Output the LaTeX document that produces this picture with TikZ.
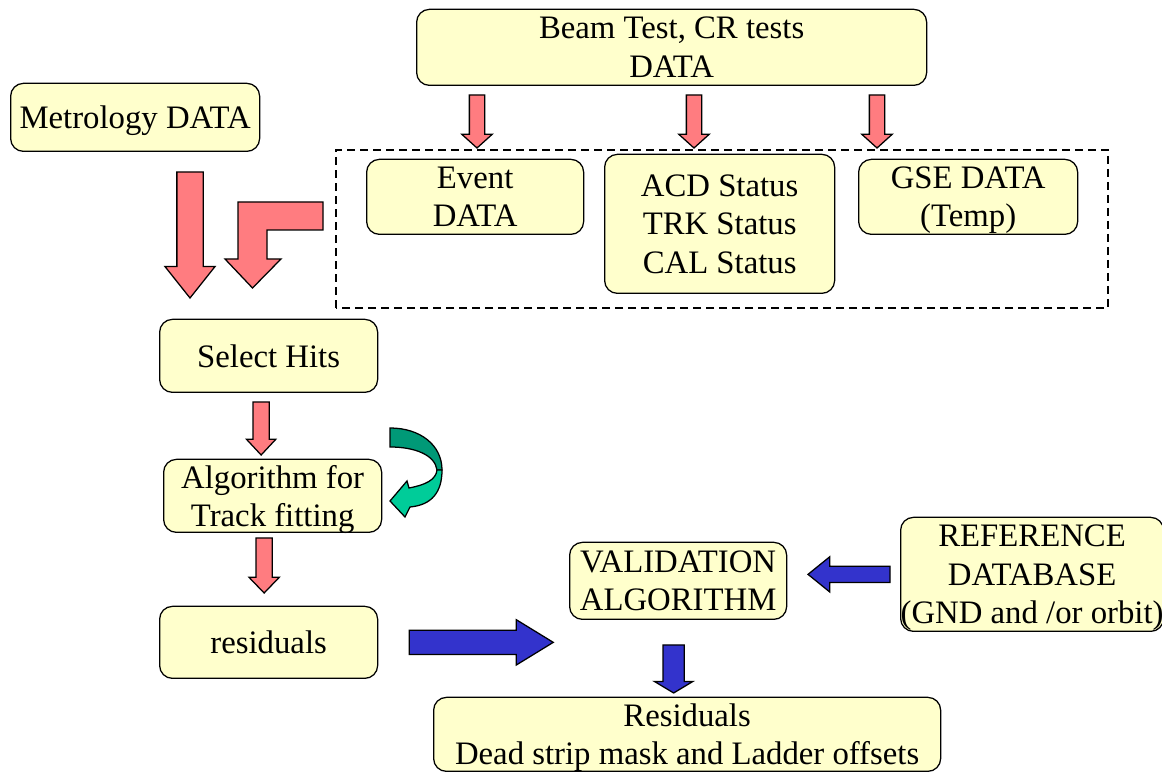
\documentclass[tikz,border=0pt]{standalone}
\usepackage{fontspec}
\setmainfont{Liberation Serif}
\usepackage{tikz}
\usetikzlibrary{shapes, arrows, positioning, calc}
\definecolor{boxfill}{HTML}{FFFFCC}
\definecolor{arrowred}{HTML}{FF7C80}
\definecolor{arrowblue}{HTML}{3333CC}
\definecolor{greendark}{HTML}{009977}
\definecolor{greenlight}{HTML}{00CC99}
\tikzstyle{box} = [draw, line width=0.9pt, rounded corners=0.32cm, fill=boxfill, align=center, anchor=south west, inner sep=0pt, text depth=-0.15cm]
\tikzstyle{blockarrow} = [single arrow, draw, line width=0.9pt, inner xsep=0pt, outer sep=0pt, rotate=-90, anchor=tail, single arrow head indent=0pt]

\begin{document}
\begin{tikzpicture}[every node/.style={font=\fontsize{23.3}{27.4}\selectfont}]
		\useasboundingbox (0,0) rectangle (29.05,19.35);
		\coordinate (beam)    at (10.4,   17.2);
		\coordinate (metro)   at (0.25,   15.55);
		\coordinate (frame)   at (8.4,    11.65);
		\coordinate (event)   at (9.15,   13.475);
		\coordinate (status)  at (15.1,   12.0);
		\coordinate (gse)     at (21.45,  13.475);
		\coordinate (select)  at (3.975,  9.525);
		\coordinate (algo)    at (4.075,  6.025);
		\coordinate (resid)   at (3.975,  2.375);
		\coordinate (valid)   at (14.225, 3.85);
		\coordinate (refdb)   at (22.5,   3.55);
		\coordinate (result)  at (10.825, 0.05);

		\draw[line width=1.4pt, dash pattern=on 0.2cm off 0.125cm] (frame) rectangle ++(19.3, 3.95);

		\node[box, minimum width=12.75cm, minimum height=1.9cm] (BEAM) at (beam) {Beam Test, CR tests\\DATA};
		\node[box, minimum width=6.225cm, minimum height=1.7cm, text depth=0pt] (MET) at (metro) {Metrology DATA};
		\node[box, minimum width=5.425cm, minimum height=1.875cm] (EVT) at (event) {Event\\DATA};
		\node[box, minimum width=5.75cm, minimum height=3.475cm] (STA) at (status) {ACD Status\\TRK Status\\CAL Status};
		\node[box, minimum width=5.475cm, minimum height=1.875cm] (GSE) at (gse) {GSE DATA\\(Temp)};
		\node[box, minimum width=5.45cm, minimum height=1.825cm] (SEL) at (select) {Select Hits};
		\node[box, minimum width=5.45cm, minimum height=1.825cm] (ALG) at (algo) {Algorithm for\\Track fitting};
		\node[box, minimum width=5.45cm, minimum height=1.8cm] (RES) at (resid) {residuals};
		\node[box, minimum width=5.425cm, minimum height=1.925cm] (VAL) at (valid) {VALIDATION\\ALGORITHM};
		\node[box, minimum width=6.5cm, minimum height=2.85cm] (REF) at (refdb) {REFERENCE\\DATABASE\\(GND and /or orbit)};
		\node[box, minimum width=12.675cm, minimum height=1.85cm] (OUT) at (result) {Residuals\\Dead strip mask and Ladder offsets};

		% red block arrows
		\node[blockarrow, fill=arrowred, minimum height=1.325cm, inner ysep=0.175cm, single arrow head extend=0.1875cm, single arrow tip angle=96] (A1) at ($(BEAM.south west) + (1.525, -0.225)$) {};
		\node[blockarrow, fill=arrowred, minimum height=1.325cm, inner ysep=0.175cm, single arrow head extend=0.1875cm, single arrow tip angle=96] (A2) at ($(BEAM.south west) + (6.95, -0.225)$) {};
		\node[blockarrow, fill=arrowred, minimum height=1.325cm, inner ysep=0.175cm, single arrow head extend=0.1875cm, single arrow tip angle=96] (A3) at ($(BEAM.south west) + (11.525, -0.225)$) {};
		\node[blockarrow, fill=arrowred, minimum height=3.15cm, inner ysep=0.3125cm, single arrow head extend=0.3cm, single arrow tip angle=77] (A4) at ($(MET.south west) + (4.5, -0.5)$) {};
		\node[blockarrow, fill=arrowred, minimum height=1.325cm, inner ysep=0.1875cm, single arrow head extend=0.1625cm, single arrow tip angle=86] (A5) at ($(SEL.south) + (-0.1875, -0.225)$) {};
		\node[blockarrow, fill=arrowred, minimum height=1.375cm, inner ysep=0.1875cm, single arrow head extend=0.175cm, single arrow tip angle=88] (A6) at ($(ALG.south) + (-0.2125, -0.125)$) {};
		\draw[line width=0.9pt, fill=arrowred] (8.075, 14.3) -- (5.95, 14.3) -- (5.95, 12.875) -- (5.625, 12.875) -- (6.3125, 12.15) -- (7.025, 12.875) -- (6.675, 12.875) -- (6.675, 13.6) -- (8.075, 13.6) -- cycle;

		% blue block arrows
		\node[blockarrow, rotate=90, fill=arrowblue, minimum height=3.6cm, inner ysep=0.2875cm, single arrow head extend=0.2625cm, single arrow tip angle=63] (B1) at ($(RES.east) + (0.775, 0.0)$) {};
		\node[blockarrow, rotate=-90, fill=arrowblue, minimum height=2.05cm, inner ysep=0.1875cm, single arrow head extend=0.2375cm, single arrow tip angle=78] (B2) at ($(REF.west) + (-0.25, 0.0)$) {};
		\node[blockarrow, fill=arrowblue, minimum height=1.2cm, inner ysep=0.25cm, single arrow head extend=0.2125cm, single arrow tip angle=118] (B3) at ($(VAL.south) + (-0.1125, -0.625)$) {};

		% green curved arrow
		\draw[line width=0.9pt, fill=greendark] (9.75, 8.65) .. controls (10.5, 8.65) and (11.05, 8.225) .. (11.05, 7.6) -- (10.925, 7.6) .. controls (10.875, 7.975) and (10.375, 8.175) .. (9.75, 8.175) -- cycle;
		\draw[line width=0.9pt, fill=greenlight] (11.05, 7.6) .. controls (11.05, 7.05) and (10.8, 6.725) .. (10.25, 6.675) -- (10.125, 6.425) -- (9.75, 6.825) -- (10.175, 7.325) -- (10.225, 7.15) .. controls (10.625, 7.225) and (10.9, 7.35) .. (10.925, 7.6) -- cycle;

	\end{tikzpicture}
\end{document}
